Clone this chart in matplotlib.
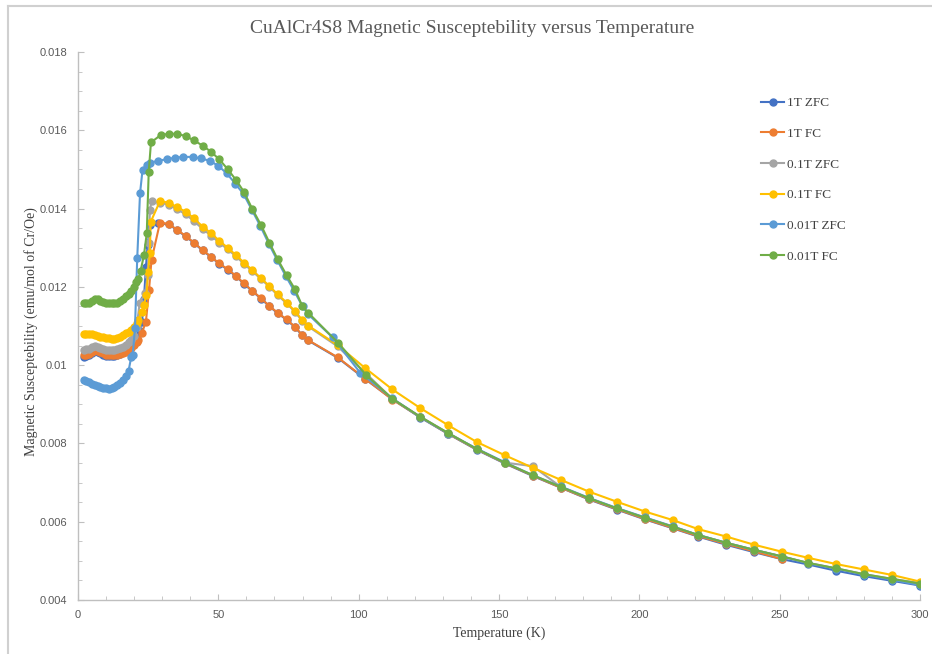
import matplotlib
matplotlib.use("Agg")
import matplotlib.pyplot as plt
from matplotlib.lines import Line2D
from matplotlib.ticker import MultipleLocator

# ---------------- datos ----------------
labels = ["1T ZFC", "1T FC", "0.1T ZFC", "0.1T FC", "0.01T ZFC", "0.01T FC"]
colors = ["#4472C4", "#ED7D31", "#A5A5A5", "#FFC000", "#5B9BD5", "#70AD47"]

HT = [112, 122, 132, 142, 152, 162, 172, 182, 192, 202, 212, 221, 231, 241,
      251, 260, 270, 280, 290, 300]
PEAK_T = [29.2, 32.4, 35.4, 38.4, 41.3, 44.4, 47.4, 50.3, 53.3, 56.3]
MID_T = [59.1, 62.1, 65.2, 68.2, 71.1, 74.3, 77.3, 79.9, 82, 92.5, 102.4]
LOW_T = list(range(2, 21))

# 1T ZFC
t_1t_zfc = LOW_T + [21, 22, 22.8, 23.5, 24.2, 24.8, 25.7, 28.6] + PEAK_T[1:] + MID_T + HT
chi_1t_zfc = [0.01022, 0.01023, 0.01025, 0.0103, 0.01035, 0.01034, 0.01031, 0.01027,
              0.01024, 0.01023, 0.01023, 0.01024, 0.01026, 0.01029, 0.01033, 0.01038,
              0.01044, 0.0105, 0.01058,
              0.0107, 0.01088, 0.0111, 0.0117, 0.0125, 0.01307, 0.01358, 0.01362,
              0.0136, 0.01344, 0.01329, 0.01312, 0.01293, 0.01276, 0.01259, 0.01244,
              0.01227,
              0.01208, 0.01189, 0.0117, 0.0115, 0.01133, 0.01116, 0.01097, 0.01076,
              0.01063, 0.01019, 0.00964,
              0.00913, 0.00866, 0.00824, 0.00784, 0.00749, 0.00717, 0.00687, 0.00657,
              0.00631, 0.00606, 0.00583, 0.00562, 0.00541, 0.00522, 0.00504, 0.00491,
              0.00475, 0.00461, 0.00449, 0.00437]

# 1T FC
t_1t_fc = LOW_T + [21, 21.5, 22.7, 24.2, 25.3, 26.2] + PEAK_T + MID_T + HT[:15]
chi_1t_fc = [0.01026, 0.01026, 0.01028, 0.01034, 0.01039, 0.01037, 0.01033, 0.0103,
             0.01027, 0.01026, 0.01026, 0.01026, 0.01027, 0.01028, 0.0103, 0.01034,
             0.01039, 0.01044, 0.01052,
             0.0106, 0.01064, 0.01081, 0.01111, 0.01192, 0.01269,
             0.01364, 0.01361, 0.01345, 0.0133, 0.01313, 0.01294, 0.01277, 0.0126,
             0.01245, 0.01228,
             0.01209, 0.0119, 0.01171, 0.01151, 0.01134, 0.01117, 0.01098, 0.01077,
             0.01064, 0.0102, 0.00965,
             0.00912, 0.00867, 0.00824, 0.00785, 0.0075, 0.00718, 0.00687, 0.00658,
             0.00632, 0.00607, 0.00584, 0.00563, 0.00543, 0.00524, 0.00504]

# 0.1T ZFC
t_01t_zfc = LOW_T + [20.9, 22, 23.9, 24.8, 25.3, 25.6, 26.2] + PEAK_T + MID_T + HT
chi_01t_zfc = [0.01039, 0.0104, 0.01042, 0.01046, 0.01049, 0.01047, 0.01043, 0.0104,
               0.01039, 0.01038, 0.01038, 0.01039, 0.01041, 0.01044, 0.01047, 0.01052,
               0.01058, 0.01064, 0.01075,
               0.01098, 0.0116, 0.01184, 0.0123, 0.01313, 0.01396, 0.01419,
               0.01415, 0.0141, 0.01398, 0.01385, 0.01368, 0.01348, 0.01331, 0.01313,
               0.01296, 0.01278,
               0.01259, 0.0124, 0.0122, 0.012, 0.01179, 0.01158, 0.01136, 0.01113,
               0.01099, 0.01048, 0.0098,
               0.00914, 0.00868, 0.00826, 0.00786, 0.00751, 0.00742, 0.00689, 0.0066,
               0.00634, 0.0061, 0.00587, 0.00566, 0.00546, 0.00528, 0.00511, 0.00495,
               0.00481, 0.00466, 0.00454, 0.00443]

# 0.1T FC
t_01t_fc = LOW_T + [21, 21.5, 22.7, 23.5, 24.4, 25, 25.6, 25.9] + PEAK_T + MID_T + HT
chi_01t_fc = [0.0108, 0.0108, 0.0108, 0.0108, 0.01078, 0.01075, 0.01073, 0.01071,
              0.0107, 0.01069, 0.01068, 0.01068, 0.01069, 0.01072, 0.01077, 0.01081,
              0.01085, 0.0109, 0.01098,
              0.01108, 0.01115, 0.01137, 0.01154, 0.0118, 0.01239, 0.01286, 0.01366,
              0.01419, 0.01415, 0.01403, 0.01392, 0.01375, 0.01354, 0.01337, 0.01318,
              0.013, 0.01281,
              0.01262, 0.01243, 0.01222, 0.01202, 0.01181, 0.0116, 0.01138, 0.01115,
              0.01101, 0.01051, 0.00992,
              0.00938, 0.0089, 0.00846, 0.00804, 0.0077, 0.00738, 0.00707, 0.00677,
              0.00651, 0.00626, 0.00604, 0.00581, 0.00562, 0.00541, 0.00523, 0.00508,
              0.00492, 0.00478, 0.00464, 0.00447]

# 0.01T ZFC
t_001t_zfc = LOW_T[:-1] + [19.5, 20.3, 21.1, 22.1, 23, 24.7, 25.6, 28.6, 31.6, 34.6,
                           37.5, 40.8, 43.8, 47, 50, 53, 56, 59, 62, 65, 68, 71, 74,
                           77, 80, 82, 90.7, 100.5] + HT
chi_001t_zfc = [0.00963, 0.0096, 0.00956, 0.00951, 0.00948, 0.00946, 0.00944, 0.00942,
                0.00941, 0.0094, 0.00941, 0.00944, 0.00948, 0.00954, 0.00962, 0.00972,
                0.00985, 0.01022,
                0.01025, 0.01095, 0.01273, 0.01439, 0.01499, 0.01512, 0.01517, 0.01522,
                0.01526, 0.0153, 0.01532, 0.01532, 0.01528, 0.01522, 0.01509, 0.0149,
                0.01464, 0.01437, 0.01396, 0.01355, 0.0131, 0.01268, 0.01228, 0.0119,
                0.0115, 0.0113, 0.01071, 0.00981,
                0.00915, 0.00867, 0.00825, 0.00787, 0.00752, 0.00719, 0.0069, 0.00661,
                0.00635, 0.00611, 0.00588, 0.00566, 0.00546, 0.00528, 0.00511, 0.00494,
                0.0048, 0.00465, 0.00452, 0.00438]

# 0.01T FC
t_001t_fc = LOW_T + [20.8, 21.5, 22.3, 23.5, 24.5, 25.2, 26, 29.5, 32.4, 35.4, 38.4,
                     41.3, 44.4, 47.4, 50.3, 53.3, 56.3, 59.1, 62.1, 65.2, 68.2, 71.1,
                     74.3, 77.3, 79.9, 82, 92.7, 102.5] + HT
chi_001t_fc = [0.01158, 0.01158, 0.0116, 0.01165, 0.01169, 0.01168, 0.01164, 0.01161,
               0.01159, 0.01158, 0.01158, 0.01158, 0.0116, 0.01163, 0.0117, 0.01176,
               0.01182, 0.0119, 0.012,
               0.01212, 0.0122, 0.01241, 0.01281, 0.01337, 0.01494, 0.01569, 0.01588,
               0.01591, 0.01591, 0.01585, 0.01574, 0.01561, 0.01545, 0.01526, 0.01501,
               0.01473, 0.01443, 0.01399, 0.01358, 0.01313, 0.01271, 0.0123, 0.01194,
               0.01151, 0.01134, 0.01057, 0.00976,
               0.00914, 0.00868, 0.00826, 0.00786, 0.00751, 0.00719, 0.00689, 0.0066,
               0.00634, 0.0061, 0.00587, 0.00566, 0.00546, 0.00528, 0.00511, 0.00495,
               0.00481, 0.00466, 0.00454, 0.00442]

series_t = [t_1t_zfc, t_1t_fc, t_01t_zfc, t_01t_fc, t_001t_zfc, t_001t_fc]
series_chi = [chi_1t_zfc, chi_1t_fc, chi_01t_zfc, chi_01t_fc, chi_001t_zfc, chi_001t_fc]

# ---------------- grafico ----------------
fig = plt.figure(figsize=(9.32, 6.54), dpi=100)
ax = fig.add_axes([78 / 932, 1 - 600 / 654, 842 / 932, 548 / 654])

for t, chi, lab, col in zip(series_t, series_chi, labels, colors):
    ax.plot(t, chi, color=col, lw=1.5, marker="o", ms=5, mec=col, mfc=col, label=lab)

ax.set_xlim(0, 300)
ax.set_ylim(0.004, 0.018)
ax.xaxis.set_major_locator(MultipleLocator(50))
ax.xaxis.set_minor_locator(MultipleLocator(10))
ax.yaxis.set_minor_locator(MultipleLocator(0.0005))
ax.set_yticks([0.004, 0.006, 0.008, 0.01, 0.012, 0.014, 0.016, 0.018])
ax.set_yticklabels(["0.004", "0.006", "0.008", "0.01", "0.012", "0.014", "0.016", "0.018"])

for s in ["top", "right"]:
    ax.spines[s].set_visible(False)
for s in ["left", "bottom"]:
    ax.spines[s].set_color("#BFBFBF")
    ax.spines[s].set_linewidth(1.0)

ax.tick_params(which="both", direction="in", color="#BFBFBF", labelcolor="#595959",
               labelsize=8)
ax.tick_params(which="major", length=4)
ax.tick_params(which="minor", length=3)
ax.tick_params(axis="y", pad=8)
ax.tick_params(axis="x", pad=7)
for lb in ax.get_xticklabels() + ax.get_yticklabels():
    lb.set_family("Liberation Sans")

serif = "Liberation Serif"
ax.set_xlabel("Temperature (K)", family=serif, fontsize=10, color="#404040", labelpad=5)
ax.set_ylabel("Magnetic Susceptebility (emu/mol of Cr/Oe)", family=serif, fontsize=10,
              color="#404040", va="center", ha="center")
ax.yaxis.set_label_coords(-47 / 842, 0.49)
fig.suptitle("CuAlCr4S8 Magnetic Susceptebility versus Temperature", family=serif,
             fontsize=14, color="#595959", x=472 / 932, y=1 - 20 / 654, va="top")

ax.legend(loc="upper left", bbox_to_anchor=(761 / 932, 1 - 97 / 654),
          bbox_transform=fig.transFigure, frameon=False, borderpad=0,
          borderaxespad=0, handlelength=1.75, handletextpad=0.25, labelspacing=1.4,
          prop={"family": serif, "size": 9.5}, labelcolor="#404040")

# marco de la figura
fig.add_artist(Line2D([8 / 932, 1], [1 - 6 / 654, 1 - 6 / 654], color="#D0D0D0", lw=1.5,
                      transform=fig.transFigure))
fig.add_artist(Line2D([8 / 932, 8 / 932], [0, 1 - 6 / 654], color="#D0D0D0", lw=1.5,
                      transform=fig.transFigure))

fig.savefig("out.png", dpi=100)
